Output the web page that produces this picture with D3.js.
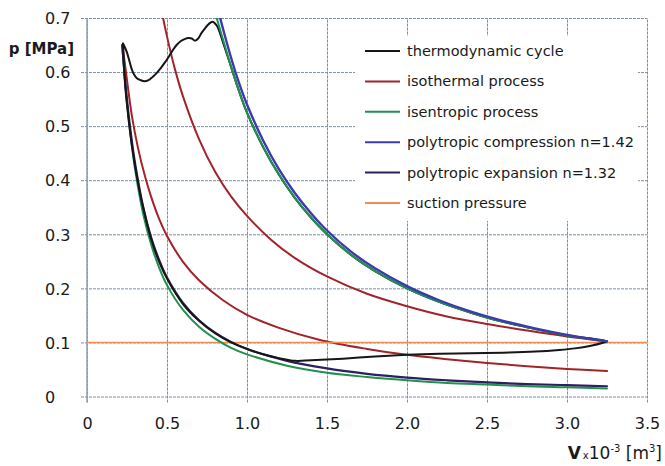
<!DOCTYPE html>
<html>
<head>
<meta charset="utf-8">
<script src="https://cdn.jsdelivr.net/npm/d3@7"></script>
<style>
  html, body { margin: 0; padding: 0; background: #fff; }
  svg { display: block; font-family: "DejaVu Sans", sans-serif; }
</style>
</head>
<body>
<svg id="chart" width="665" height="466"></svg>
<script>
// Volume in 10^-3 m^3, pressure in MPa — [V, p] pairs.
const xTicks = [0, 0.5, 1.0, 1.5, 2.0, 2.5, 3.0, 3.5];
const yTicks = [0, 0.1, 0.2, 0.3, 0.4, 0.5, 0.6, 0.7];

const suctionPressure = 0.1;

// measured indicator loop: expansion, suction, compression, discharge
const cycleExpansion = [
  [0.225,0.653],[0.228,0.630],[0.233,0.600],[0.240,0.570],[0.250,0.540],[0.265,0.500],
  [0.280,0.466],[0.300,0.427],[0.330,0.378],[0.360,0.338],[0.400,0.292],[0.450,0.250],
  [0.500,0.218],[0.600,0.171],[0.700,0.140],[0.800,0.117],[0.900,0.100],[1.000,0.088],
  [1.100,0.078],[1.200,0.071],[1.300,0.066]
];
const cycleSuction = [
  [1.40,0.067],[1.60,0.070],[1.80,0.074],[2.00,0.077],[2.20,0.079],[2.40,0.080],
  [2.60,0.081],[2.80,0.083],[2.95,0.086],[3.05,0.089],[3.15,0.094],[3.22,0.099],[3.25,0.102]
];
const cycleCompression = [
  [3.00,0.113],[2.80,0.125],[2.60,0.138],[2.40,0.155],[2.20,0.175],[2.00,0.200],
  [1.80,0.232],[1.65,0.262],[1.50,0.300],[1.40,0.331],[1.30,0.367],[1.20,0.410],
  [1.10,0.462],[1.00,0.525],[0.95,0.565],[0.90,0.610],[0.85,0.655],[0.815,0.684]
];
const cycleDischarge = [
  [0.800,0.690],[0.785,0.693],[0.770,0.691],[0.755,0.687],[0.735,0.680],[0.715,0.672],
  [0.695,0.662],[0.675,0.658],[0.655,0.662],[0.635,0.663],[0.610,0.661],[0.585,0.657],
  [0.560,0.650],[0.535,0.640],[0.510,0.628],[0.485,0.617],[0.460,0.607],[0.435,0.598],
  [0.410,0.591],[0.385,0.585],[0.360,0.583],[0.335,0.585],[0.310,0.589],[0.295,0.595],
  [0.280,0.605],[0.270,0.615],[0.260,0.626],[0.250,0.636],[0.238,0.645],[0.225,0.653]
];

// isothermal processes
const isothermalCompression = [
  [0.44,0.757],[0.47,0.708],[0.50,0.666],[0.55,0.605],[0.60,0.555],[0.70,0.476],
  [0.80,0.416],[0.90,0.370],[1.00,0.334],[1.15,0.290],[1.30,0.256],[1.50,0.222],
  [1.75,0.190],[2.00,0.167],[2.25,0.148],[2.50,0.134],[2.75,0.122],[3.00,0.111],[3.25,0.102]
];
const isothermalExpansion = [
  [0.222,0.650],[0.25,0.585],[0.28,0.520],[0.32,0.458],[0.36,0.410],[0.40,0.370],
  [0.45,0.329],[0.50,0.297],[0.60,0.249],[0.70,0.215],[0.85,0.178],[1.00,0.151],
  [1.20,0.127],[1.45,0.105],[1.75,0.088],[2.00,0.077],[2.25,0.069],[2.50,0.062],
  [2.75,0.056],[3.00,0.051],[3.25,0.047]
];

// isentropic processes
const isentropicCompression = [
  [0.78,0.740],[0.80,0.712],[0.85,0.660],[0.90,0.610],[0.95,0.565],[1.00,0.525],
  [1.10,0.462],[1.20,0.410],[1.30,0.367],[1.40,0.331],[1.50,0.300],[1.65,0.262],
  [1.80,0.232],[2.00,0.200],[2.20,0.175],[2.40,0.155],[2.60,0.138],[2.80,0.125],
  [3.00,0.113],[3.25,0.102]
];
const isentropicExpansion = [
  [0.22,0.650],[0.24,0.575],[0.26,0.514],[0.28,0.464],[0.30,0.421],[0.35,0.339],
  [0.40,0.282],[0.45,0.239],[0.50,0.206],[0.60,0.160],[0.70,0.129],[0.80,0.107],
  [0.90,0.090],[1.00,0.078],[1.25,0.057],[1.50,0.044],[1.75,0.036],[2.00,0.030],
  [2.25,0.025],[2.50,0.022],[2.75,0.019],[3.00,0.017],[3.25,0.015]
];

// polytropic compression n=1.42
const polytropicCompression = [
  [0.80,0.745],[0.82,0.715],[0.85,0.680],[0.90,0.627],[0.95,0.580],[1.00,0.540],
  [1.10,0.474],[1.20,0.420],[1.30,0.376],[1.40,0.339],[1.50,0.307],[1.65,0.268],
  [1.80,0.237],[2.00,0.204],[2.20,0.178],[2.40,0.157],[2.60,0.140],[2.80,0.126],
  [3.00,0.114],[3.25,0.102]
];
// polytropic expansion n=1.32
const polytropicExpansion = [
  [0.22,0.650],[0.24,0.579],[0.26,0.521],[0.28,0.473],[0.30,0.432],[0.35,0.352],
  [0.40,0.295],[0.45,0.253],[0.50,0.220],[0.60,0.173],[0.70,0.141],[0.80,0.118],
  [0.90,0.101],[1.00,0.088],[1.25,0.066],[1.50,0.052],[1.75,0.042],[2.00,0.035],
  [2.25,0.030],[2.50,0.026],[2.75,0.023],[3.00,0.021],[3.25,0.019]
];

const legendNames = [
  "thermodynamic cycle", "isothermal process", "isentropic process",
  "polytropic compression n=1.42", "polytropic expansion n=1.32", "suction pressure"
];
const colors = {
  cycle: "#161616", isothermal: "#a3232a", isentropic: "#22904f",
  polyComp: "#3a3cae", polyExp: "#2b215e", suction: "#ee8d56"
};
const legendColors = [colors.cycle, colors.isothermal, colors.isentropic,
                      colors.polyComp, colors.polyExp, colors.suction];

const svg = d3.select("#chart");
const plotLeft = 87, plotRight = 647, plotTop = 18, plotBottom = 396.5;

const x = d3.scaleLinear().domain([0, 3.5]).range([plotLeft, plotRight]);
const y = d3.scaleLinear().domain([0, 0.7]).range([plotBottom, plotTop]);
const fmt = d => d === 0 ? "0" : d.toFixed(1);
const gridColor = "#7d8ea4";

// horizontal grid + y labels
const gy = svg.append("g").attr("transform", `translate(${plotLeft},0)`)
  .call(d3.axisLeft(y).tickValues(yTicks).tickFormat(fmt).tickSize(-(plotRight - plotLeft)).tickSizeOuter(0));
gy.select(".domain").remove();
gy.selectAll(".tick line")
  .attr("x1", -6).attr("stroke", gridColor).attr("stroke-width", 1).attr("stroke-dasharray", "3,1");
gy.selectAll(".tick text")
  .attr("x", 45 - plotLeft).attr("dy", "0.36em").attr("text-anchor", "start")
  .attr("font-family", "DejaVu Sans, sans-serif").attr("font-size", 16).attr("fill", "#1a1a1a");

// vertical grid + x labels
const gx = svg.append("g").attr("transform", `translate(0,${plotBottom})`)
  .call(d3.axisBottom(x).tickValues(xTicks).tickFormat(fmt).tickSize(-(plotBottom - plotTop)).tickSizeOuter(0));
gx.select(".domain").remove();
gx.selectAll(".tick line")
  .attr("y1", 6).attr("stroke", gridColor).attr("stroke-width", 1).attr("stroke-dasharray", "3,1");
gx.selectAll(".tick text")
  .attr("y", 21).attr("dy", "0.71em")
  .attr("font-family", "DejaVu Sans, sans-serif").attr("font-size", 16).attr("fill", "#1a1a1a");

// left axis line
svg.append("line").attr("x1", plotLeft).attr("x2", plotLeft).attr("y1", plotTop).attr("y2", plotBottom + 6)
  .attr("stroke", "#8fa0b4").attr("stroke-width", 1.5);

// legend background
svg.append("rect").attr("x", 355).attr("y", 36).attr("width", 283).attr("height", 185).attr("fill", "#fff");

// curves
svg.append("clipPath").attr("id", "plotClip")
  .append("rect").attr("x", plotLeft).attr("y", plotTop)
  .attr("width", plotRight - plotLeft).attr("height", plotBottom - plotTop);
const plot = svg.append("g").attr("clip-path", "url(#plotClip)");
const line = d3.line().x(d => x(d[0])).y(d => y(d[1])).curve(d3.curveCatmullRom.alpha(0.5));

function draw(data, color, width) {
  plot.append("path").datum(data).attr("d", line)
    .attr("fill", "none").attr("stroke", color).attr("stroke-width", width)
    .attr("stroke-linejoin", "round").attr("stroke-linecap", "round");
}

draw(isothermalCompression, colors.isothermal, 2);
draw(isothermalExpansion, colors.isothermal, 2);
plot.append("line").attr("x1", x(0)).attr("x2", x(3.5))
  .attr("y1", y(suctionPressure)).attr("y2", y(suctionPressure))
  .attr("stroke", colors.suction).attr("stroke-width", 1.6);
draw(isentropicExpansion, colors.isentropic, 2);
draw(polytropicExpansion, colors.polyExp, 2.2);
draw(cycleExpansion.concat(cycleSuction, cycleCompression, cycleDischarge), colors.cycle, 2);
draw(isentropicCompression, colors.isentropic, 2);
draw(polytropicCompression, colors.polyComp, 2.4);

// legend
const lg = svg.append("g");
legendNames.forEach((name, i) => {
  const cy = 51 + i * 30.4;
  lg.append("line").attr("x1", 365).attr("x2", 400).attr("y1", cy).attr("y2", cy)
    .attr("stroke", legendColors[i]).attr("stroke-width", 2);
  lg.append("text").attr("x", 407).attr("y", cy).attr("dy", "0.35em")
    .attr("font-size", 14.5).attr("fill", "#1a1a1a").text(name);
});

// axis titles
svg.append("text").attr("x", 74).attr("y", 54).attr("text-anchor", "end")
  .attr("font-size", 15).attr("font-weight", "bold").attr("fill", "#1a1a1a").text("p [MPa]");

const xt = svg.append("text").attr("x", 662).attr("y", 459).attr("text-anchor", "end")
  .attr("font-size", 17).attr("fill", "#1a1a1a");
xt.append("tspan").attr("font-weight", "bold").text("V");
xt.append("tspan").attr("font-size", 10).attr("dx", 2).text("x");
xt.append("tspan").text("10");
xt.append("tspan").attr("font-size", 10).attr("dy", -7).text("-3");
xt.append("tspan").attr("dy", 7).text(" [m");
xt.append("tspan").attr("font-size", 10).attr("dy", -7).text("3");
xt.append("tspan").attr("dy", 7).text("]");
</script>
</body>
</html>
